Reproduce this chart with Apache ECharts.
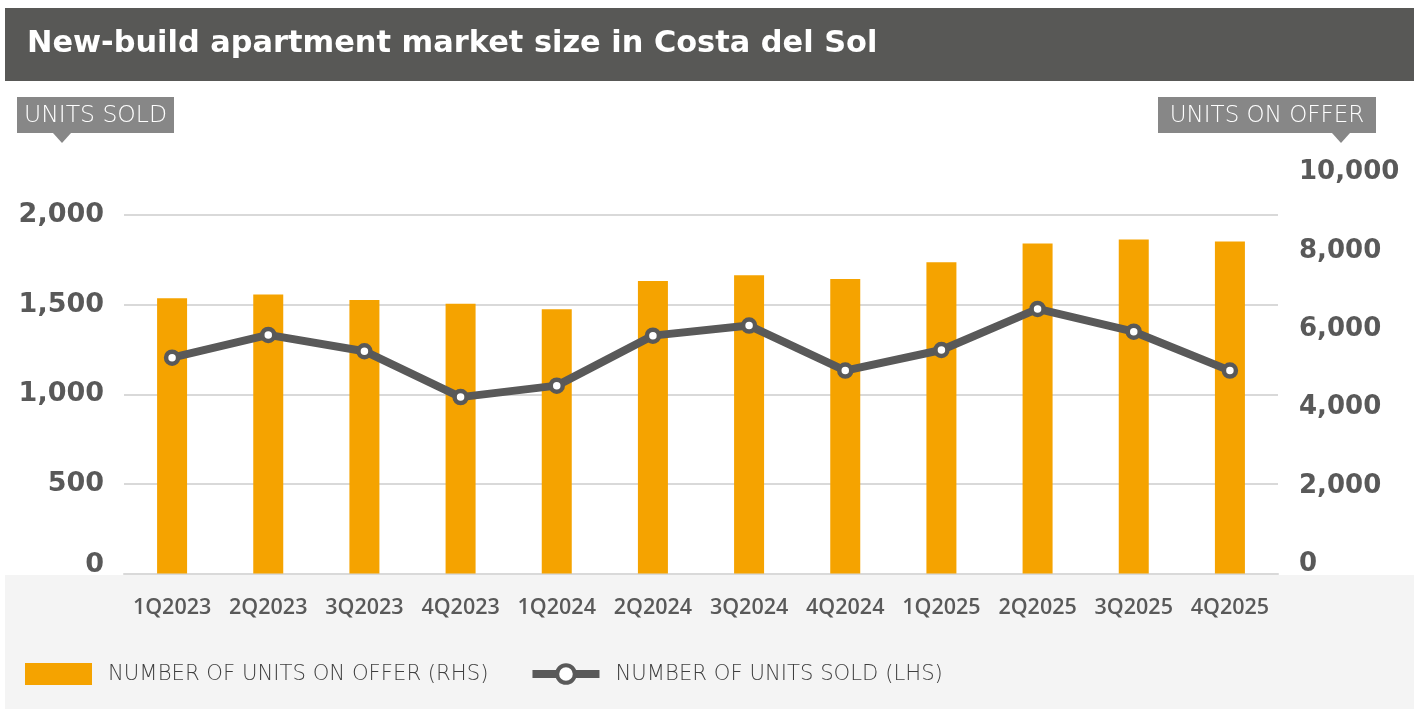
<!DOCTYPE html>
<html>
<head>
<meta charset="utf-8">
<script src="https://cdn.jsdelivr.net/npm/echarts@6/dist/echarts.min.js"></script>
<style>html,body{margin:0;padding:0;background:#fff}#c{width:1414px;height:709px}</style>
</head>
<body>
<div id="c"></div>
<script>
const title = 'New-build apartment market size in Costa del Sol';
const categories = ['1Q2023','2Q2023','3Q2023','4Q2023','1Q2024','2Q2024','3Q2024','4Q2024','1Q2025','2Q2025','3Q2025','4Q2025'];
const unitsOnOffer = [7020, 7120, 6980, 6880, 6740, 7460, 7610, 7510, 7940, 8420, 8520, 8470];
const unitsSold = [1204, 1331, 1240, 984, 1048, 1327, 1383, 1132, 1247, 1476, 1349, 1132];
const offerName = 'NUMBER OF UNITS ON OFFER (RHS)';
const soldName = 'NUMBER OF UNITS SOLD (LHS)';
const leftTitle = 'UNITS SOLD';
const rightTitle = 'UNITS ON OFFER';

const GREY = '#595959';
const ORANGE = '#F5A300';
const BOLD = 'DejaVu Sans';
const LIGHT = 'DejaVu Sans';
const SEMI = 'Open Sans';

const fmt = v => v.toLocaleString('en-US');

const chart = echarts.init(document.getElementById('c'));
const gridBase = {left: 124, right: 136, bottom: 135.5};
chart.setOption({
  animation: false,
  backgroundColor: '#fff',
  textStyle: {fontFamily: BOLD},
  graphic: [
    {type: 'rect', z: -10, shape: {x: 5, y: 8, width: 1409, height: 73}, style: {fill: '#585856'}},
    {type: 'text', z: 10, x: 27, y: 44, style: {text: title, fill: '#fff', font: 'bold 30.4px "DejaVu Sans"', verticalAlign: 'middle'}},
    {type: 'rect', z: -10, shape: {x: 5, y: 575, width: 1409, height: 134}, style: {fill: '#f4f4f4'}},
    {type: 'rect', z: 10, shape: {x: 17, y: 97, width: 157, height: 36}, style: {fill: '#878787'}},
    {type: 'polygon', z: 10, shape: {points: [[53, 133], [71, 133], [62, 143]]}, style: {fill: '#878787'}},
    {type: 'text', z: 11, x: 95.5, y: 116, style: {text: leftTitle, fill: '#fff', font: '200 23.5px "DejaVu Sans"', align: 'center', verticalAlign: 'middle'}},
    {type: 'rect', z: 10, shape: {x: 1158, y: 97, width: 218, height: 36}, style: {fill: '#878787'}},
    {type: 'polygon', z: 10, shape: {points: [[1332, 133], [1350, 133], [1341, 143]]}, style: {fill: '#878787'}},
    {type: 'text', z: 11, x: 1267, y: 116, style: {text: rightTitle, fill: '#fff', font: '200 23px "DejaVu Sans"', align: 'center', verticalAlign: 'middle'}}
  ],
  legend: {
    left: 25, top: 663, padding: 0,
    itemWidth: 67, itemHeight: 22, itemGap: 40,
    data: [
      {name: offerName, icon: 'rect'},
      {name: soldName, lineStyle: {width: 8, color: GREY}, itemStyle: {color: '#fff', borderColor: GREY, borderWidth: 4}}
    ],
    textStyle: {fontFamily: LIGHT, fontWeight: 200, fontSize: 21.2, color: '#3f3f3f', padding: [0, 0, 0, 11]}
  },
  grid: [
    Object.assign({top: 215}, gridBase),
    Object.assign({top: 181.5}, gridBase)
  ],
  xAxis: [
    {type: 'category', gridIndex: 0, data: categories,
     axisLine: {lineStyle: {color: '#d9d9d9', width: 2}}, axisTick: {show: false},
     axisLabel: {margin: 23, fontFamily: SEMI, fontWeight: 600, fontSize: 21.5, color: GREY, interval: 0}},
    {type: 'category', gridIndex: 1, data: categories, show: false}
  ],
  yAxis: [
    {type: 'value', gridIndex: 0, min: 0, max: 2000, interval: 500, position: 'left',
     axisLine: {show: false}, axisTick: {show: false},
     splitLine: {lineStyle: {color: '#d9d9d9', width: 2}},
     axisLabel: {margin: 20, fontFamily: BOLD, fontWeight: 'bold', fontSize: 27, color: GREY,
       formatter: v => v === 0 ? '{z|0}' : fmt(v),
       rich: {z: {fontFamily: BOLD, fontWeight: 'bold', fontSize: 27, color: GREY, padding: [0, 0, 18, 0]}}}},
    {type: 'value', gridIndex: 1, min: 0, max: 10000, interval: 2000, position: 'right',
     axisLine: {show: false}, axisTick: {show: false}, splitLine: {show: false},
     axisLabel: {margin: 21, color: GREY, align: 'left',
       formatter: v => '{r|' + fmt(v) + '}',
       rich: {r: {fontFamily: BOLD, fontWeight: 'bold', fontSize: 26, color: GREY, padding: [0, 0, 18, 0]}}}}
  ],
  series: [
    {name: offerName, type: 'bar', xAxisIndex: 1, yAxisIndex: 1, data: unitsOnOffer,
     barWidth: 30, itemStyle: {color: ORANGE}, z: 2},
    {name: soldName, type: 'line', xAxisIndex: 0, yAxisIndex: 0, data: unitsSold, z: 5,
     symbol: 'circle', symbolSize: 12, showAllSymbol: true,
     lineStyle: {color: GREY, width: 8},
     itemStyle: {color: '#fff', borderColor: GREY, borderWidth: 4.5}}
  ]
});
</script>
</body>
</html>
